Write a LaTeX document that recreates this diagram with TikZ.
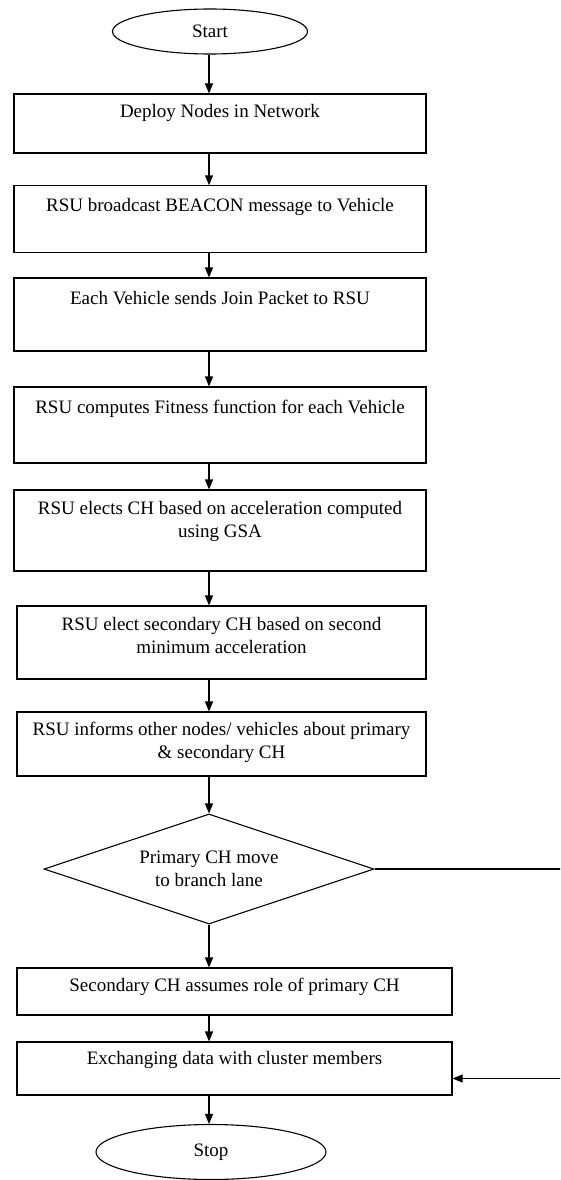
\documentclass[tikz,border=0pt]{standalone}
\usepackage{fontspec}
\setmainfont{Liberation Serif}
\usetikzlibrary{shapes.geometric,arrows.meta,positioning}

\begin{document}
\begin{tikzpicture}[x=1pt,y=-1pt,line width=1.1pt,
  font=\fontsize{19}{23.5}\selectfont,
  term/.style={draw,ellipse,minimum width=#1,minimum height=45pt,inner sep=0},
  box/.style 2 args={draw,rectangle,minimum width=#1,minimum height=#2,inner sep=0},
  txt/.style={anchor=north,align=center,inner sep=0,yshift=#1},
  txt/.default=-11pt,
  arr/.style={-{Triangle[length=10pt,width=8pt]}}]
%\draw[step=20,color=gray] (0,0) grid (560,1180);
\useasboundingbox (0,0) rectangle (560,1180);
\clip (0,0) rectangle (560,1180);
\node[term=195pt] (start) at (210,31.5) {Start};
\node[box={412pt}{59pt},label={[txt=-10.5pt]north:Deploy Nodes in Network}] (deploy) at (220,123.5) {};
\node[box={412pt}{67pt},label={[txt=-12.5pt]north:RSU broadcast BEACON message to Vehicle}] (beacon) at (220,219.3) {};
\node[box={412pt}{73pt},label={[txt=-13pt]north:Each Vehicle sends Join Packet to RSU}] (join) at (220,314.5) {};
\node[box={412pt}{76pt},label={[txt=-13pt]north:RSU computes Fitness function for each Vehicle}] (fitness) at (220,425) {};
\node[box={412pt}{81pt},label={[txt=-11pt]north:RSU elects CH based on acceleration computed\\using GSA}] (elect) at (220,530.5) {};
\node[box={409pt}{73pt},label={[txt=-11pt]north:RSU elect secondary CH based on second\\minimum acceleration}] (second) at (221.5,642.5) {};
\node[box={409pt}{64pt},label={[txt=-10pt]north:RSU informs other nodes/ vehicles about primary\\\& secondary CH}] (inform) at (221.5,744) {};
\node[draw,diamond,aspect=3,minimum width=330pt,minimum height=110pt,inner sep=0,align=center] (move) at (209,869) {Primary CH move\\to branch lane};
\node[box={435pt}{47pt},label={[txt=-10pt]north:Secondary CH assumes role of primary CH}] (assume) at (234.5,991.5) {};
\node[box={435pt}{53pt},label={[txt=-9pt]north:Exchanging data with cluster members}] (exchange) at (234.5,1068.5) {};
\node[term=230pt,minimum height=55pt] (stop) at (211,1152) {Stop};
\coordinate (edge) at (566,869);
\draw[arr] (start.south -| move) -- (deploy.north -| move);
\foreach \a/\b in {deploy/beacon,beacon/join,join/fitness,fitness/elect,elect/second,second/inform,inform/move,move/assume,assume/exchange,exchange/stop}
  \draw[arr] (\a.south -| move) -- (\b.north -| move);
\draw[arr] (move.east) -- (edge) |- ([yshift=-10pt]exchange.east);
\end{tikzpicture}
\end{document}
